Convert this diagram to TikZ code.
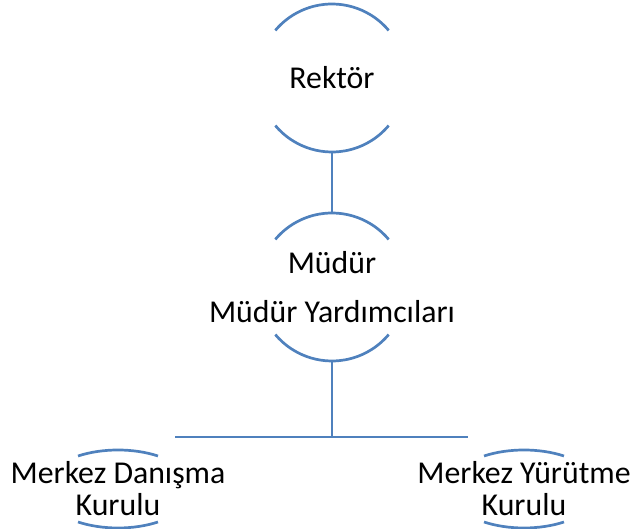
\documentclass[tikz,border=0pt]{standalone}
\usepackage{fontspec}
\setmainfont{Carlito}
\usepackage{tikz}
\definecolor{linkblue}{HTML}{4F81BD}

\begin{document}
\begin{tikzpicture}[x=1pt,y=1pt,
    ring/.style={circle,minimum size=148pt,inner sep=0pt},
    arcline/.style={draw=linkblue,line width=2.7pt},
    txt/.style={align=center,inner sep=0pt,font=\fontsize{31.8}{32}\selectfont}]
      \useasboundingbox (0,0) rectangle (633,529);
      % Drawing units
      % Unit 1: Rektor
      \node[ring] (rektor) at (332,451) {};
      \node[txt] (rektortext) at (rektor.center) {Rektör};
      \draw[arcline] ([shift={(40:74)}]rektor.center) arc[start angle=40,end angle=140,radius=74];
      \draw[arcline] ([shift={(220:74)}]rektor.center) arc[start angle=220,end angle=320,radius=74];
      % Unit 2: Mudur
      \node[ring] (mudur) at (332,242) {};
      \node[txt,font=\fontsize{31.8}{49}\selectfont] (mudurtext) at (mudur.center) {Müdür\\Müdür Yardımcıları};
      \draw[arcline] ([shift={(40:74)}]mudur.center) arc[start angle=40,end angle=140,radius=74];
      \draw[arcline] ([shift={(220:74)}]mudur.center) arc[start angle=220,end angle=320,radius=74];
      % Unit 3: Danisma
      \node[txt] (danisma) at (118,40) {Merkez Danışma\\Kurulu};
      \draw[arcline] ([shift={(57.8:75 and 39)}]danisma.center) arc[start angle=57.8,end angle=122.2,x radius=75,y radius=39];
      \draw[arcline] ([shift={(237.8:75 and 39)}]danisma.center) arc[start angle=237.8,end angle=302.2,x radius=75,y radius=39];
      % Unit 4: Yurutme
      \node[txt] (yurutme) at (524,40) {Merkez Yürütme\\Kurulu};
      \draw[arcline] ([shift={(57.8:75 and 39)}]yurutme.center) arc[start angle=57.8,end angle=122.2,x radius=75,y radius=39];
      \draw[arcline] ([shift={(237.8:75 and 39)}]yurutme.center) arc[start angle=237.8,end angle=302.2,x radius=75,y radius=39];
      % Done with units; drawing links
      \draw[arcline] (rektor.south) -- (mudur.north);
      \coordinate (barleft) at (175,92);
      \coordinate (barright) at (468,92);
      \draw[arcline] (barleft) -- (barright);
      \draw[arcline] (mudur.south) -- (mudur.south |- barleft);
      % Done with links
\end{tikzpicture}
\end{document}
